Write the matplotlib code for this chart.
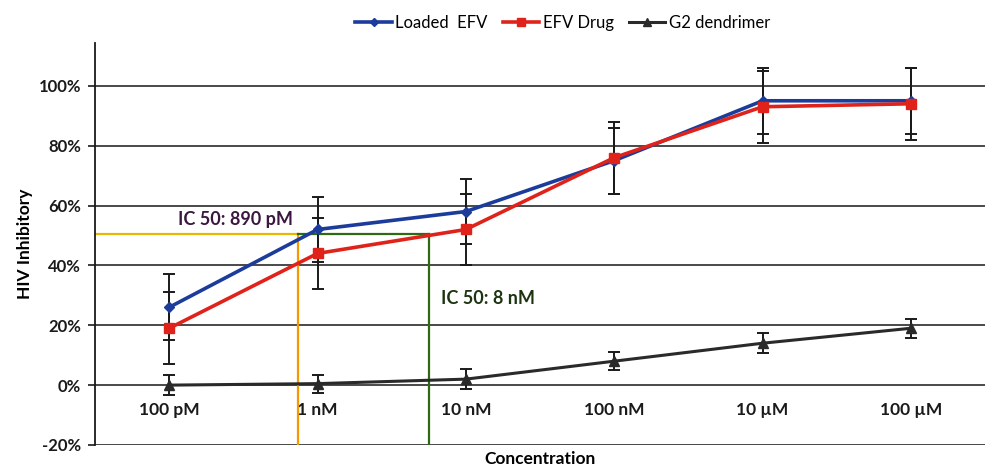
import matplotlib.pyplot as plt

plt.rcParams['font.family'] = ['Lato', 'DejaVu Sans']

concentrations = ["100 pM", "1 nM", "10 nM", "100 nM", "10 µM", "100 µM"]

loaded_efv = [26, 52, 58, 75, 95, 95]
loaded_efv_err = [11, 11, 11, 11, 11, 11]

efv_drug = [19, 44, 52, 76, 93, 94]
efv_drug_err = [12, 12, 12, 12, 12, 12]

g2_dendrimer = [0, 0.5, 2, 8, 14, 19]
g2_dendrimer_err = [3.3, 3, 3.3, 3, 3.3, 3.2]

y_ticks = [-20, 0, 20, 40, 60, 80, 100]

# IC50 reference lines (x in category units, y in %)
ic50_level = 50.5
ic50_loaded_x = 0.87
ic50_drug_x = 1.75


def main():
    fig = plt.figure(figsize=(9.87, 4.69), dpi=100)
    ax = fig.add_axes([0.0963, 0.0512, 0.9017, 0.8571])

    x = list(range(len(concentrations)))

    ax.set_xlim(-0.5, 5.5)
    ax.set_ylim(-20, 114.3)

    # spines / tick setup first, otherwise the tick labels get reset
    ax.spines['bottom'].set_position(('data', 0))
    ax.spines['bottom'].set_visible(False)
    ax.spines['top'].set_visible(False)
    ax.spines['right'].set_visible(False)
    ax.spines['left'].set_color('#1a1a1a')
    ax.spines['left'].set_linewidth(1.3)
    ax.tick_params(axis='y', length=5, width=1.2, pad=5, colors='#1a1a1a')
    ax.tick_params(axis='x', length=0, pad=12, colors='#1a1a1a')

    for y in y_ticks:
        ax.axhline(y, color='#3a3a3a', linewidth=1.3, zorder=1)

    # IC50 guide lines
    ax.plot([-0.5, ic50_loaded_x], [ic50_level, ic50_level], color='#e8b800', linewidth=1.6, zorder=2)
    ax.plot([ic50_loaded_x, ic50_loaded_x], [-20, ic50_level], color='#f29a00', linewidth=1.6, zorder=2)
    ax.plot([ic50_loaded_x, ic50_drug_x], [ic50_level, ic50_level], color='#2e6a12', linewidth=1.6, zorder=2)
    ax.plot([ic50_drug_x, ic50_drug_x], [-20, ic50_level], color='#2e6a12', linewidth=1.6, zorder=2)

    err_style = dict(fmt='none', ecolor='#1a1a1a', elinewidth=1.4, capsize=4, capthick=1.4, zorder=3)
    ax.errorbar(x, loaded_efv, yerr=loaded_efv_err, **err_style)
    ax.errorbar(x, efv_drug, yerr=efv_drug_err, **err_style)
    ax.errorbar(x, g2_dendrimer, yerr=g2_dendrimer_err, **err_style)

    ax.plot(x, loaded_efv, color='#1c3c9c', linewidth=2.6, marker='D', markersize=5,
            label='Loaded  EFV', zorder=5)
    ax.plot(x, efv_drug, color='#e0231a', linewidth=2.6, marker='s', markersize=6.5,
            label='EFV Drug', zorder=6)
    ax.plot(x, g2_dendrimer, color='#2a2a2a', linewidth=2.2, marker='^', markersize=7,
            label='G2 dendrimer', zorder=5)

    ax.text(0.45, 55.5, 'IC 50: 890 pM', color='#3a1640', fontsize=13, fontweight='bold',
            ha='center', va='center')
    ax.text(2.15, 29, 'IC 50: 8 nM', color='#1c3410', fontsize=13, fontweight='bold',
            ha='center', va='center')

    ax.set_yticks(y_ticks)
    ax.set_yticklabels([f"{v}%" for v in y_ticks], fontsize=12, fontweight='bold')
    ax.set_xticks(x)
    ax.set_xticklabels(concentrations, fontsize=12.5, fontweight='bold')

    ax.set_ylabel('HIV Inhibitory', fontsize=12.5, fontweight='bold')
    ax.yaxis.set_label_coords(-0.07, 0.5)
    ax.set_xlabel('Concentration', fontsize=12.5, fontweight='bold')
    ax.xaxis.set_label_coords(0.5, -0.015)

    fig.legend(loc='upper center', bbox_to_anchor=(0.57, 1.0), ncol=3, frameon=False,
               fontsize=12, handlelength=2.2, columnspacing=0.9, handletextpad=0.2,
               markerscale=0.8)

    fig.savefig('out.png', dpi=100)


if __name__ == "__main__":
    main()
